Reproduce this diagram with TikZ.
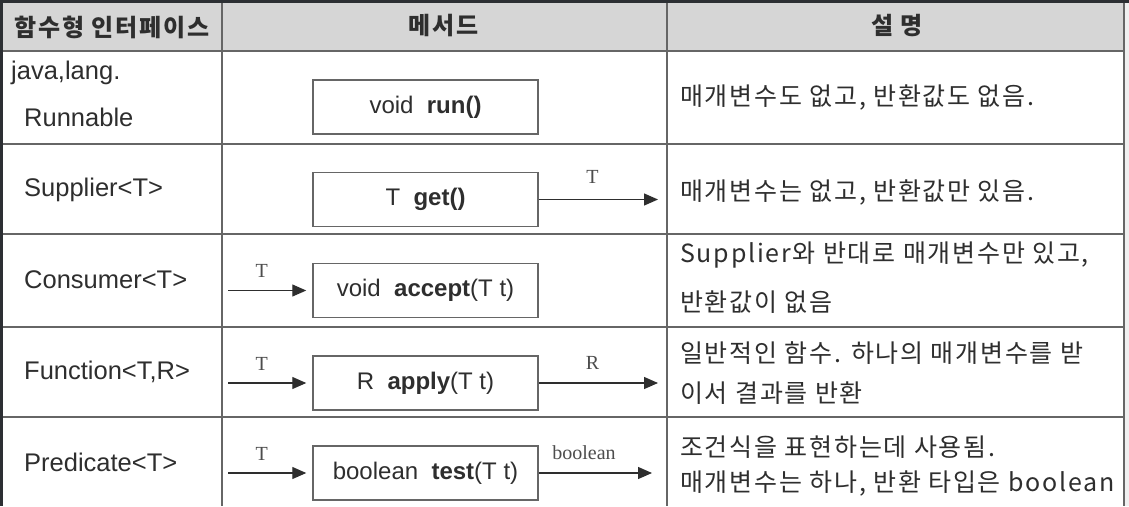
\documentclass[tikz,border=0pt]{standalone}
\usepackage{fontspec}
\setmainfont{Liberation Sans}
\newfontfamily\kr[LetterSpace=7]{Noto Sans CJK KR}
\newfontfamily\krhead[LetterSpace=8]{Noto Sans CJK KR}
\newfontfamily\lbl{Liberation Serif}
\usetikzlibrary{arrows.meta}
\definecolor{bgdark}{HTML}{2C2F33}
\definecolor{headgray}{HTML}{D6D6D6}
\definecolor{rulegray}{HTML}{666666}
\definecolor{ink}{HTML}{2E2E2E}

\begin{document}
\begin{tikzpicture}[x=1pt, y=-1pt,
    grid/.style={draw=rulegray, line width=1.8pt},
    head/.style={inner sep=0pt, font=\krhead\bfseries\fontsize{24}{28}\selectfont, text=ink},
    iface/.style={anchor=west, inner sep=0pt, font=\fontsize{25.5}{30}\selectfont, text=ink},
    method/.style={draw=rulegray, line width=1.5pt, minimum width=225pt, minimum height=54pt,
        inner sep=0pt, font=\fontsize{24}{28}\selectfont, text=ink},
    desc/.style={anchor=west, inner sep=0pt, font=\kr\fontsize{25}{30}\selectfont, text=ink},
    flow/.style={draw=ink, line width=1.3pt, -{Triangle[length=14pt, width=12pt]}},
    tag/.style={inner sep=0pt, font=\lbl\fontsize{20}{24}\selectfont, text=ink!85}]
    \useasboundingbox (0,0) rectangle (1129,506);

    % 바탕
    \fill[bgdark] (0,0) rectangle (1129,506);
    \fill[white] (3,3) rectangle (1129,506);
    \fill[gray!12] (1124,3) rectangle (1129,506);
    \fill[headgray] (3,3) rectangle (1124,51);

    % 표 선
    \foreach \y in {51,144,234,327,417}
        \draw[grid] (3,\y) -- (1124,\y);
    \foreach \x in {222,667,1124}
        \draw[grid] (\x,3) -- (\x,506);

    % 머리글
    \node[head] (hIface) at (112,27) {함수형 인터페이스};
    \node[head] (hMethod) at (444,26) {메서드};
    \node[head] (hDesc) at (897,26) {설 명};

    % 함수형 인터페이스
    \node[iface] (java) at (11,73) {java,lang.};
    \node[iface] (runnable) at (24,117) {Runnable};
    \node[iface] (supplier) at (24,190) {Supplier<T>};
    \node[iface] (consumer) at (24,280) {Consumer<T>};
    \node[iface] (function) at (24,372) {Function<T,R>};
    \node[iface] (predicate) at (24,462) {Predicate<T>};

    % 메서드
    \node[method] (run) at (425.5,107) {void\ \ \textbf{run()}};
    \node[method] (get) at (425.5,199.5) {T\ \ \textbf{get()}};
    \node[method] (accept) at (425.5,290.5) {void\ \ \textbf{accept}(T\ t)};
    \node[method] (apply) at (425.5,383) {R\ \ \textbf{apply}(T\ t)};
    \node[method] (test) at (425.5,473) {boolean\ \ \textbf{test}(T\ t)};

    % 입력 화살표
    \coordinate (inAccept) at (228,290.5);
    \coordinate (inApply) at (228,383);
    \coordinate (inTest) at (228,473);
    \draw[flow, shorten >=6pt] (inAccept) -- (accept) node[tag, pos=0.4, above=12pt] {T};
    \draw[flow, shorten >=6pt] (inApply) -- (apply) node[tag, pos=0.4, above=12pt] {T};
    \draw[flow, shorten >=6pt] (inTest) -- (test) node[tag, pos=0.4, above=12pt] {T};

    % 출력 화살표
    \coordinate (outGet) at (658,199.5);
    \coordinate (outApply) at (658,383);
    \coordinate (outTest) at (652,473);
    \draw[flow] (get) -- (outGet) node[tag, pos=0.45, above=15pt] {T};
    \draw[flow] (apply) -- (outApply) node[tag, pos=0.45, above=13pt] {R};
    \draw[flow] (test) -- (outTest) node[tag, pos=0.4, above=13pt] {boolean};

    % 설명
    \node[desc] (dRun) at (680,97) {매개변수도 없고, 반환값도 없음.};
    \node[desc] (dGet) at (680,192) {매개변수는 없고, 반환값만 있음.};
    \node[desc] (dAccA) at (680,255) {Supplier와 반대로 매개변수만 있고,};
    \node[desc] (dAccB) at (680,302) {반환값이 없음};
    \node[desc] (dAppA) at (680,353) {일반적인 함수. 하나의 매개변수를 받};
    \node[desc] (dAppB) at (680,393) {이서 결과를 반환};
    \node[desc] (dTestA) at (680,447) {조건식을 표현하는데 사용됨.};
    \node[desc] (dTestB) at (680,483) {매개변수는 하나, 반환 타입은 boolean};
\end{tikzpicture}
\end{document}
